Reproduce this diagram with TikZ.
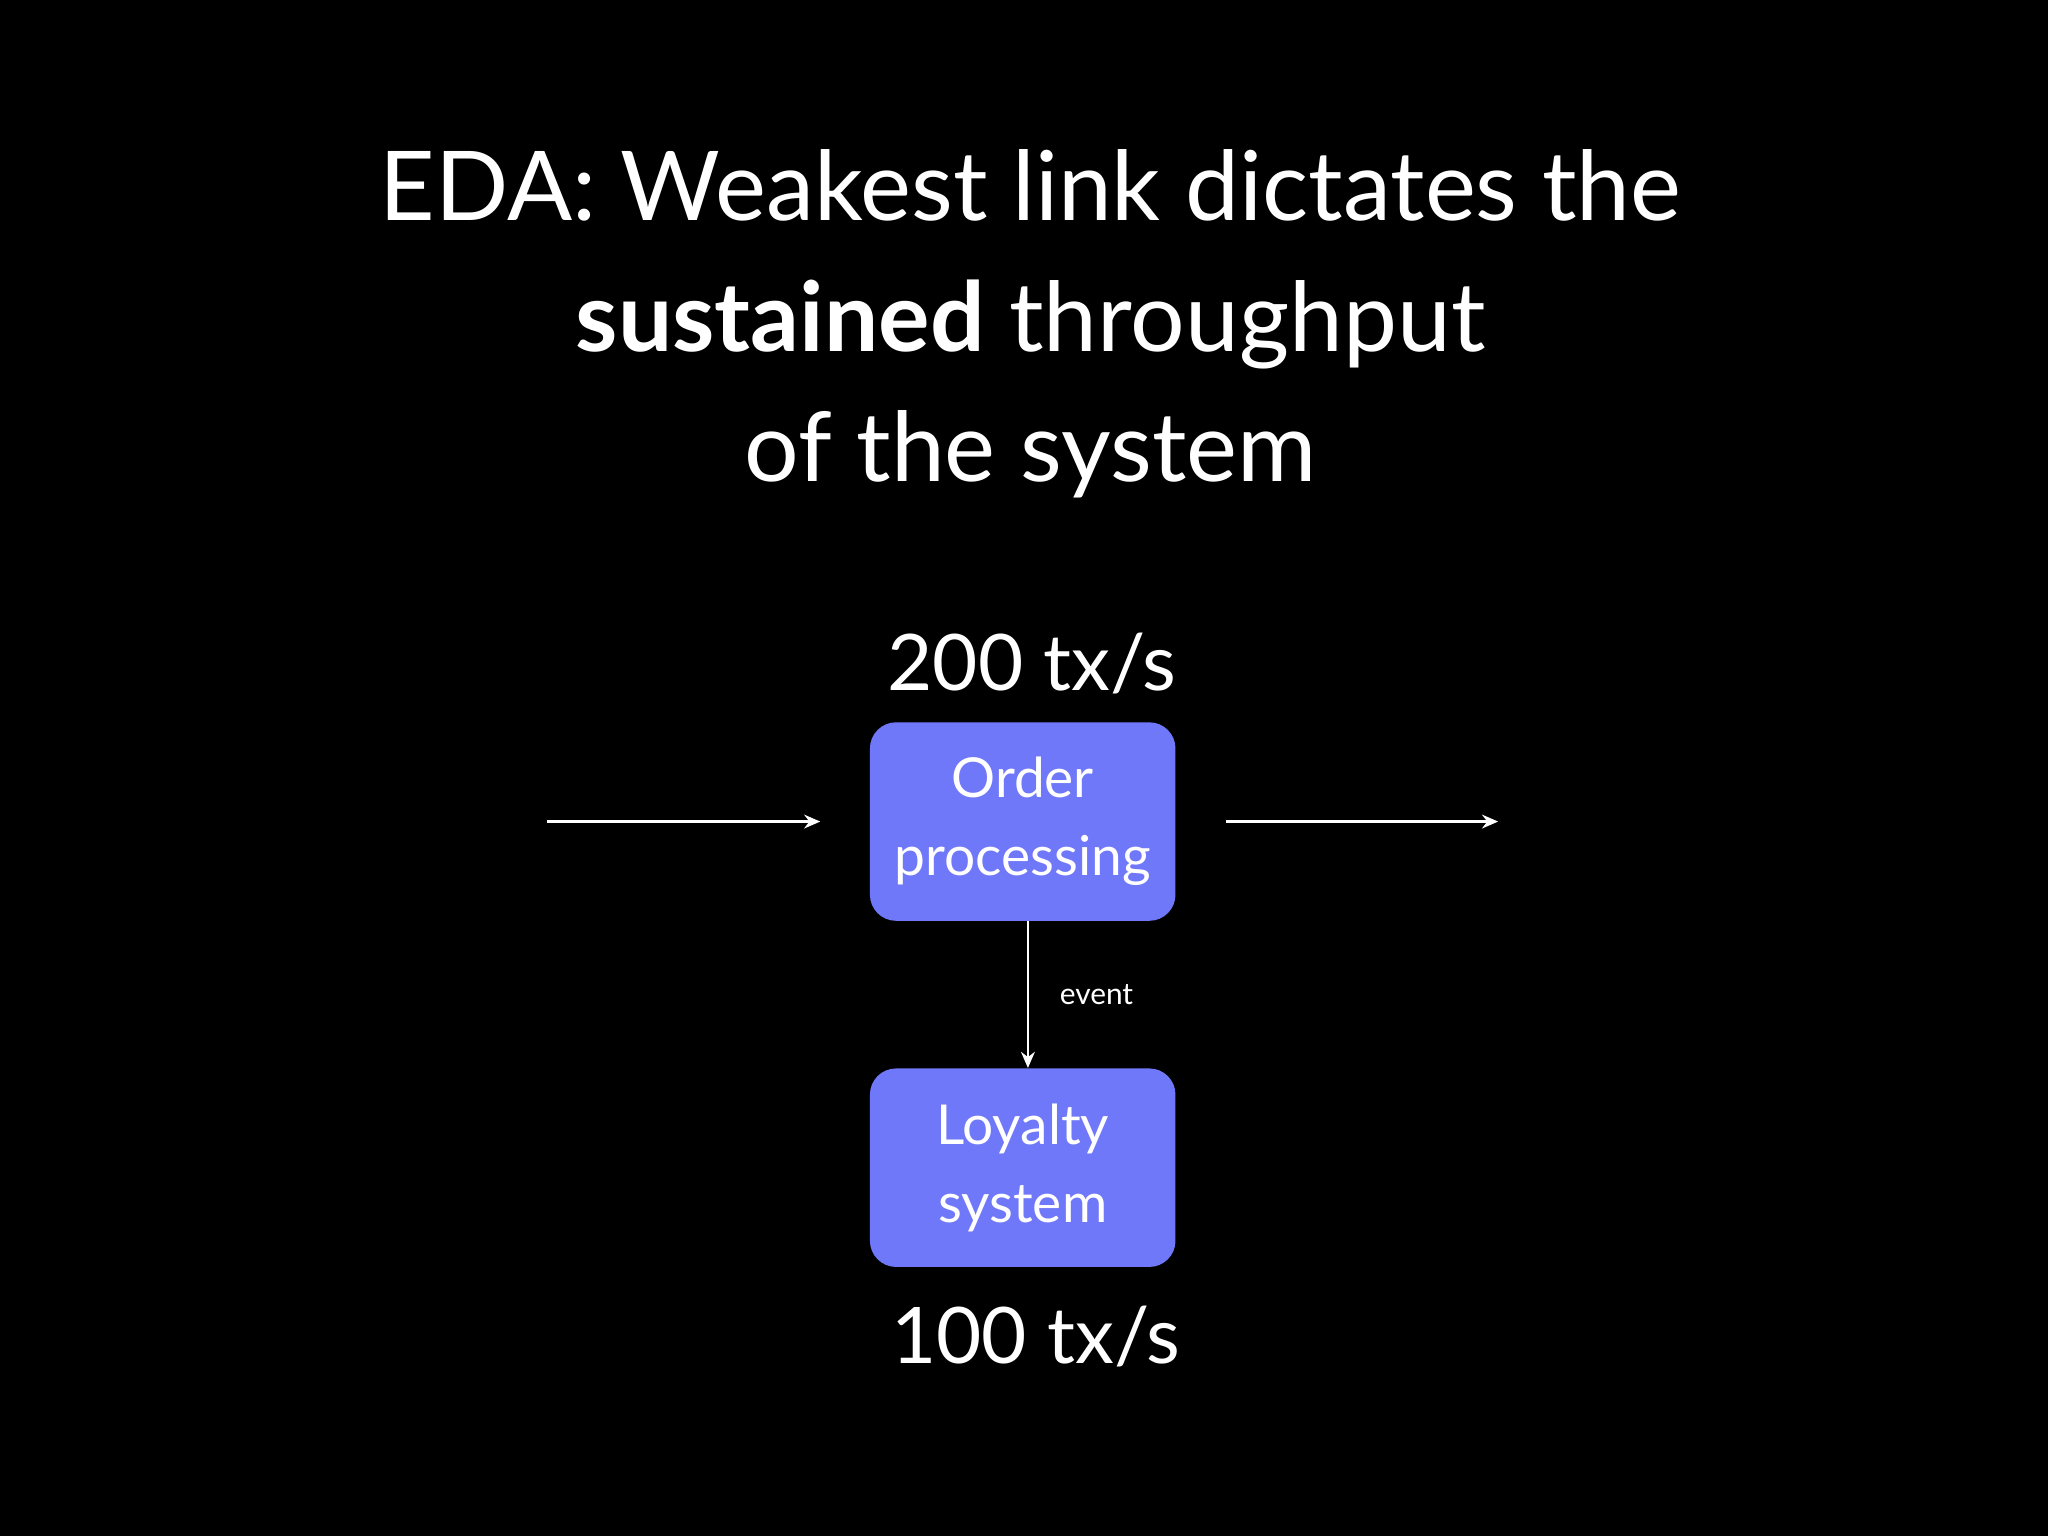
\documentclass[tikz,border=0pt]{standalone}
\usepackage{fontspec}
\setmainfont{Lato}
\usetikzlibrary{arrows.meta}
\definecolor{boxc}{HTML}{7078FA}
\begin{document}
\begin{tikzpicture}[x=0.02cm,y=-0.02cm,
  box/.style={fill=boxc,rounded corners=0.4cm,minimum width=4.68cm,minimum height=3.04cm,inner sep=0,align=center,text=white,font=\fontsize{24}{34}\selectfont},
  big/.style={text=white,font=\fontsize{34}{40}\selectfont},
  arr/.style={draw=white,line width=1.2pt,-{Stealth[length=7pt,width=6pt]}}]
\fill[black] (0,0) rectangle (1568,1176);
\useasboundingbox (0,0) rectangle (1568,1176);
\node[text=white,align=center,font=\fontsize{42}{57}\selectfont] (title) at (789,248) {EDA: Weakest link dictates the\\\textbf{sustained} throughput\\of the system};
\node[big] (t200) at (790,508) {200 tx/s};
\node[box] (order) at (783,629) {Order\\processing};
\node[box] (loyal) at (783,894) {Loyalty\\system};
\node[big] (t100) at (793,1023) {100 tx/s};
\coordinate (inA) at (419,629);
\coordinate (inB) at (628,629);
\coordinate (outA) at (939,629);
\coordinate (outB) at (1147,629);
\draw[arr] (inA) -- (inB);
\draw[arr] (outA) -- (outB);
\draw[arr] (order.south -| 787,0) -- (loyal.north -| 787,0) node[midway,right=10pt,text=white,font=\fontsize{13}{15}\selectfont] (ev) {event};
\end{tikzpicture}
\end{document}
